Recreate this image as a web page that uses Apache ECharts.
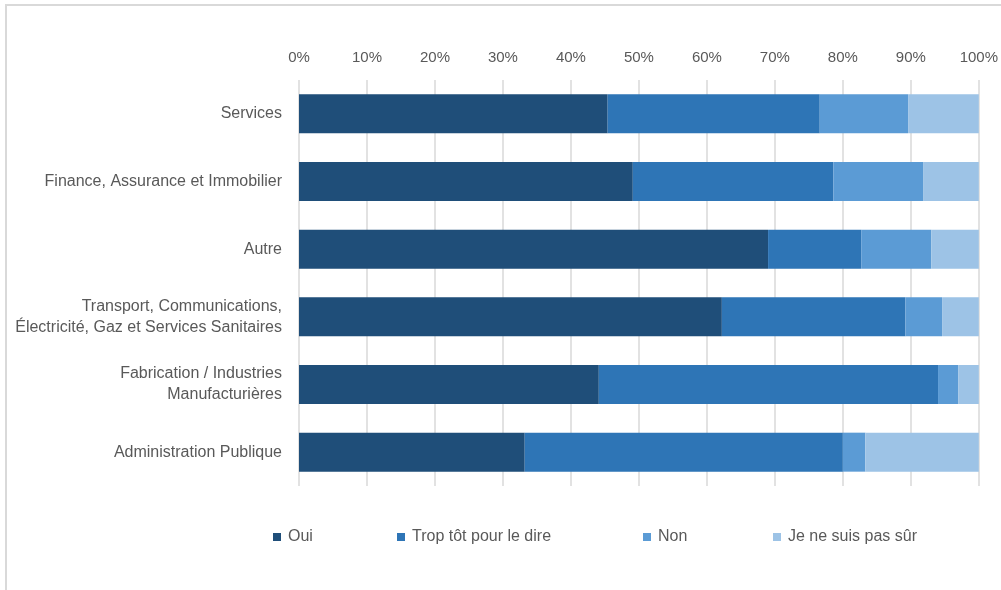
<!DOCTYPE html>
<html>
<head>
<meta charset="utf-8">
<script src="https://cdn.jsdelivr.net/npm/echarts@6/dist/echarts.min.js"></script>
<style>
  html, body { margin: 0; padding: 0; background: #ffffff; }
  #chart { width: 1001px; height: 590px; }
</style>
</head>
<body>
<div id="chart"></div>
<script>
// Secteurs (du haut vers le bas)
const categories = [
  'Services',
  'Finance, Assurance et Immobilier',
  'Autre',
  'Transport, Communications,\nÉlectricité, Gaz et Services Sanitaires',
  'Fabrication / Industries\nManufacturières',
  'Administration Publique'
];

// Parts des réponses, en pourcentage
const oui = [45.4, 49.1, 69.0, 62.2, 44.1, 33.2];
const tropTot = [31.2, 29.5, 13.7, 27.0, 49.9, 46.8];
const non = [13.0, 13.2, 10.3, 5.4, 3.0, 3.3];
const pasSur = [10.4, 8.2, 7.0, 5.4, 3.0, 16.7];

const seriesNames = ['Oui', 'Trop tôt pour le dire', 'Non', 'Je ne suis pas sûr'];
const seriesColors = ['#1f4e79', '#2e75b6', '#5b9bd5', '#9dc3e6'];
const seriesValues = [oui, tropTot, non, pasSur];

// Position horizontale de chaque entrée de légende
const legendLefts = [273, 397, 643, 773];

const fontFamily = '"Liberation Sans", Arial, sans-serif';
const textColor = '#595959';

const chart = echarts.init(document.getElementById('chart'), null, { renderer: 'canvas' });

chart.setOption({
  backgroundColor: '#ffffff',
  animation: false,
  graphic: [{
    type: 'rect',
    shape: { x: 6, y: 5, width: 1010, height: 600 },
    style: { fill: 'none', stroke: '#d9d9d9', lineWidth: 2 },
    silent: true,
    z: -10
  }],
  legend: seriesNames.map((name, i) => ({
    left: legendLefts[i],
    top: 529,
    padding: 0,
    itemWidth: 8,
    itemHeight: 8,
    icon: 'rect',
    textStyle: { color: textColor, fontSize: 16, fontFamily: fontFamily, padding: [0, 0, 0, 2] },
    data: [name]
  })),
  grid: { left: 299, right: 21, top: 80, bottom: 104, containLabel: false },
  xAxis: {
    type: 'value',
    position: 'top',
    min: 0,
    max: 100,
    interval: 10,
    axisLine: { show: false },
    axisTick: { show: false },
    splitLine: { show: true, lineStyle: { color: '#d9d9d9', width: 1.5 } },
    axisLabel: {
      formatter: '{value}%',
      color: textColor,
      fontSize: 15,
      fontFamily: fontFamily,
      margin: 15
    }
  },
  yAxis: {
    type: 'category',
    inverse: true,
    data: categories,
    axisLine: { show: false },
    axisTick: { show: false },
    axisLabel: {
      color: textColor,
      fontSize: 16,
      fontFamily: fontFamily,
      margin: 17,
      align: 'right',
      lineHeight: 21
    }
  },
  series: seriesNames.map((name, i) => ({
    name: name,
    type: 'bar',
    stack: 'total',
    barWidth: 39,
    itemStyle: { color: seriesColors[i] },
    data: seriesValues[i]
  }))
});
</script>
</body>
</html>
